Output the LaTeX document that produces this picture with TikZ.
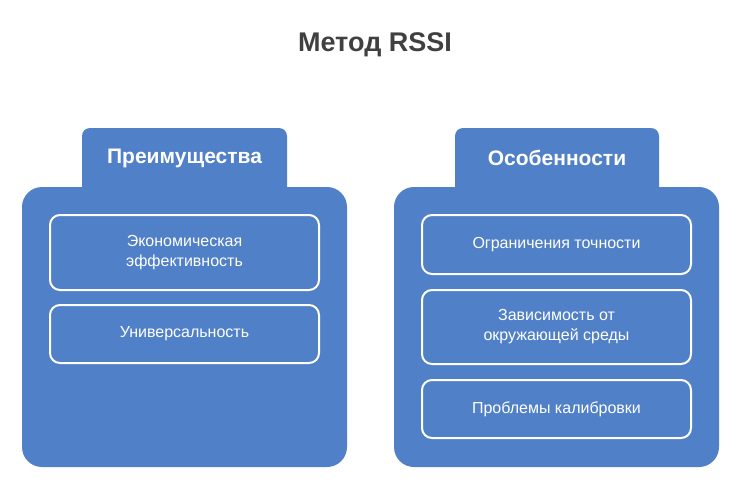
\documentclass[tikz,border=0pt]{standalone}
\usepackage{fontspec}
\setmainfont{Liberation Sans}
\begin{document}
\begin{tikzpicture}[x=1pt,y=-1pt,
  cont/.style={fill=blue!50!cyan!40!black!0, fill=mainblue, rounded corners=20pt},
  inner/.style={draw=white, line width=2pt, fill=mainblue, rounded corners=10pt, text=white, align=center, font=\fontsize{16}{20}\selectfont},
  head/.style={text=white, font=\bfseries\fontsize{21}{24}\selectfont}]
\definecolor{mainblue}{HTML}{5080C8}
\useasboundingbox (0,0) rectangle (750,499);
\node[font=\bfseries\fontsize{27}{30}\selectfont, text=black!75] (title) at (375,45) {Метод RSSI};
% left
\fill[mainblue, rounded corners=20pt] (22,187) rectangle (347,467);
\fill[mainblue, rounded corners=8pt] (82,195) -- (82,128) -- (287,128) -- (287,195) -- cycle;
\fill[mainblue] (82,180) rectangle (287,195);
\node[head] (h1) at (184.5,158) {Преимущества};
\node[inner, minimum width=269pt, minimum height=75pt] (a1) at (184.5,252.5) {Экономическая\\эффективность};
\node[inner, minimum width=269pt, minimum height=58pt] (a2) at (184.5,334) {Универсальность};
% right
\fill[mainblue, rounded corners=20pt] (394,187) rectangle (719,467);
\fill[mainblue, rounded corners=8pt] (455,195) -- (455,128) -- (659,128) -- (659,195) -- cycle;
\fill[mainblue] (455,180) rectangle (659,195);
\node[head] (h2) at (557,158) {Особенности};
\node[inner, minimum width=269pt, minimum height=59pt] (b1) at (556.5,244.5) {Ограничения точности};
\node[inner, minimum width=269pt, minimum height=74pt] (b2) at (556.5,327) {Зависимость от\\окружающей среды};
\node[inner, minimum width=269pt, minimum height=58pt] (b3) at (556.5,409) {Проблемы калибровки};
\end{tikzpicture}
\end{document}
